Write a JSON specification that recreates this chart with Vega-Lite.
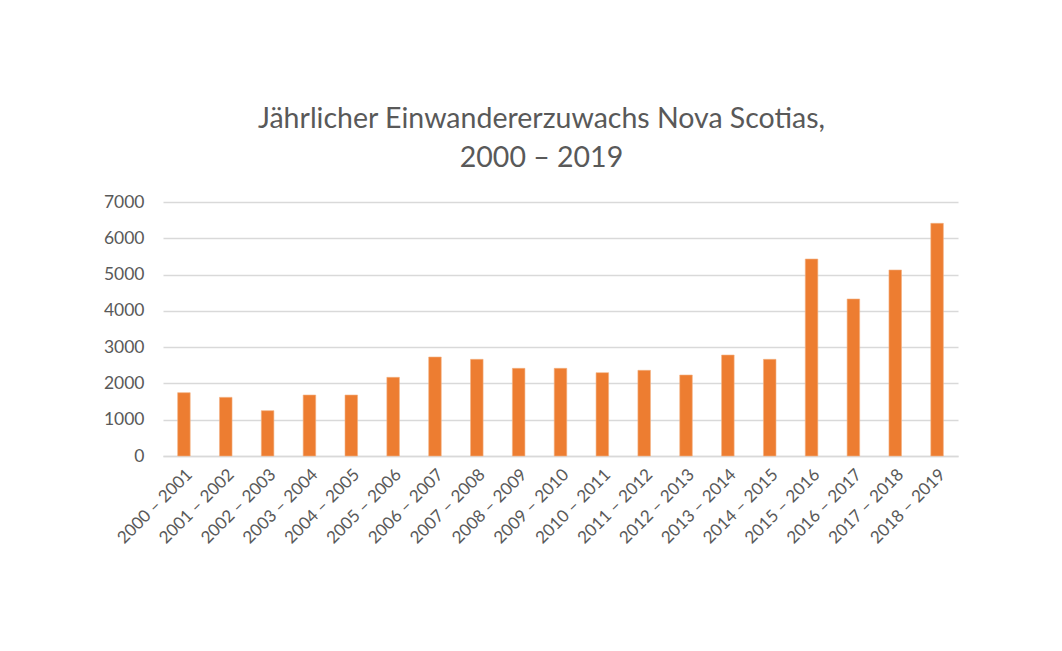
{
  "$schema": "https://vega.github.io/schema/vega-lite/v6.json",
  "width": 795,
  "height": 254,
  "autosize": {"type": "none"},
  "padding": {"left": 163, "top": 202, "right": 104, "bottom": 195},
  "background": "white",
  "title": {
    "text": ["Jährlicher Einwandererzuwachs Nova Scotias,", "2000 – 2019"],
    "font": "Lato",
    "fontSize": 28.5,
    "fontWeight": "normal",
    "color": "#595959",
    "lineHeight": 39,
    "anchor": "middle",
    "dx": -19,
    "offset": 21
  },
  "data": {
    "values": [
      {"zeitraum": "2000 – 2001", "zuwachs": 1745},
      {"zeitraum": "2001 – 2002", "zuwachs": 1617},
      {"zeitraum": "2002 – 2003", "zuwachs": 1249},
      {"zeitraum": "2003 – 2004", "zuwachs": 1681},
      {"zeitraum": "2004 – 2005", "zuwachs": 1681},
      {"zeitraum": "2005 – 2006", "zuwachs": 2168},
      {"zeitraum": "2006 – 2007", "zuwachs": 2728},
      {"zeitraum": "2007 – 2008", "zuwachs": 2664},
      {"zeitraum": "2008 – 2009", "zuwachs": 2416},
      {"zeitraum": "2009 – 2010", "zuwachs": 2416},
      {"zeitraum": "2010 – 2011", "zuwachs": 2297},
      {"zeitraum": "2011 – 2012", "zuwachs": 2361},
      {"zeitraum": "2012 – 2013", "zuwachs": 2232},
      {"zeitraum": "2013 – 2014", "zuwachs": 2783},
      {"zeitraum": "2014 – 2015", "zuwachs": 2664},
      {"zeitraum": "2015 – 2016", "zuwachs": 5429},
      {"zeitraum": "2016 – 2017", "zuwachs": 4327},
      {"zeitraum": "2017 – 2018", "zuwachs": 5126},
      {"zeitraum": "2018 – 2019", "zuwachs": 6412}
    ]
  },
  "mark": {"type": "bar", "color": "#ED7D31", "stroke": "#F4B183", "strokeWidth": 0.6},
  "encoding": {
    "x": {
      "field": "zeitraum",
      "type": "ordinal",
      "sort": null,
      "title": null,
      "scale": {"paddingInner": 0.7, "paddingOuter": 0.35},
      "axis": {
        "labelAngle": -45,
        "labelFont": "Lato",
        "labelFontSize": 17,
        "labelColor": "#595959",
        "labelPadding": 10,
        "ticks": false,
        "domainColor": "#d9d9d9",
        "domainWidth": 1.5
      }
    },
    "y": {
      "field": "zuwachs",
      "type": "quantitative",
      "title": null,
      "scale": {"domain": [0, 7000]},
      "axis": {
        "values": [0, 1000, 2000, 3000, 4000, 5000, 6000, 7000],
        "format": "d",
        "labelFont": "Lato",
        "labelFontSize": 17.5,
        "labelColor": "#595959",
        "labelPadding": 19,
        "ticks": false,
        "domain": false,
        "gridColor": "#d9d9d9",
        "gridWidth": 1.5
      }
    }
  },
  "config": {"view": {"stroke": null}}
}
